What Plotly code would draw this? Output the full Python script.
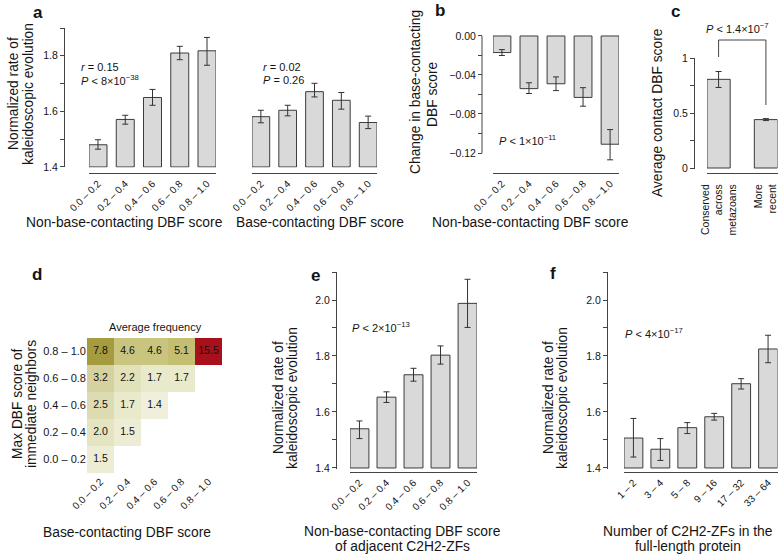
import plotly.graph_objects as go

W, H = 778, 556

# ---------------- data ----------------
dbf_bins = ["0.0 – 0.2", "0.2 – 0.4", "0.4 – 0.6", "0.6 – 0.8", "0.8 – 1.0"]

# panel a (left): non-base-contacting DBF score
a_nb_mean = [1.480, 1.571, 1.650, 1.810, 1.818]
a_nb_hi = [1.498, 1.586, 1.679, 1.834, 1.866]
a_nb_lo = [1.464, 1.554, 1.622, 1.786, 1.766]
# panel a (right): base-contacting DBF score
a_b_mean = [1.581, 1.604, 1.671, 1.640, 1.560]
a_b_hi = [1.604, 1.622, 1.701, 1.668, 1.583]
a_b_lo = [1.559, 1.584, 1.652, 1.608, 1.538]

# panel b: change in base-contacting DBF score
b_mean = [-0.017, -0.054, -0.049, -0.063, -0.111]
b_hi = [-0.014, -0.048, -0.042, -0.053, -0.096]
b_lo = [-0.020, -0.059, -0.056, -0.072, -0.127]

# panel c: average contact DBF score
c_groups = ["Conserved<br>across<br>metazoans", "More<br>recent"]
c_mean = [0.806, 0.440]
c_hi = [0.877, 0.449]
c_lo = [0.732, 0.431]

# panel d: average frequency heat map (rows: neighbours, bottom to top)
d_z = [
    [1.5, None, None, None, None],
    [2.0, 1.5, None, None, None],
    [2.5, 1.7, 1.4, None, None],
    [3.2, 2.2, 1.7, 1.7, None],
    [7.8, 4.6, 4.6, 5.1, 15.5],
]

# panel e: adjacent C2H2-ZFs
e_mean = [1.540, 1.653, 1.733, 1.803, 1.988]
e_hi = [1.568, 1.672, 1.756, 1.836, 2.074]
e_lo = [1.505, 1.634, 1.710, 1.771, 1.902]

# panel f: number of C2H2-ZFs
f_bins = ["1 – 2", "3 – 4", "5 – 8", "9 – 16", "17 – 32", "33 – 64"]
f_mean = [1.507, 1.467, 1.544, 1.583, 1.701, 1.825]
f_hi = [1.577, 1.505, 1.562, 1.595, 1.719, 1.874]
f_lo = [1.439, 1.427, 1.523, 1.571, 1.682, 1.776]

# axis ticks
rate_major_a = [1.4, 1.6, 1.8]
rate_minor_a = [1.5, 1.7, 1.9]
rate_major_e = [1.4, 1.6, 1.8, 2.0]
rate_minor_e = [1.5, 1.7, 1.9, 2.1]
b_major = [0.0, -0.04, -0.08, -0.12]
b_major_text = ["0.00", "−0.04", "−0.08", "−0.12"]
b_minor = [-0.02, -0.06, -0.10]
c_major = [0, 0.5, 1.0]
c_major_text = ["0", "0.5", "1"]
c_minor = [0.25, 0.75]

# ---------------- style ----------------
FONT = "Liberation Sans, Arial, sans-serif"
BAR_FILL = "#d9d9d9"
BAR_EDGE = "#3c3c3c"
LINE = "#444444"
TXT = "#141414"
TICK_FS = 10.5
ROT_FS = 10
TITLE_FS = 13.8
ANN_FS = 11


def px_x(p):
    return p / W


def px_y(p):
    return 1 - p / H


def dom_x(a, b):
    return [px_x(a), px_x(b)]


def dom_y(top, bottom):
    return [px_y(bottom), px_y(top)]


fig = go.Figure()


def add_bars(ax, cats, mean, hi, lo, base, width):
    fig.add_trace(go.Bar(
        x=cats, y=[m - base for m in mean], base=base, width=width,
        xaxis="x" + ax, yaxis="y" + ax,
        marker=dict(color=BAR_FILL, line=dict(color=BAR_EDGE, width=1)),
        error_y=dict(type="data", symmetric=False,
                     array=[h - m for h, m in zip(hi, mean)],
                     arrayminus=[m - l for m, l in zip(mean, lo)],
                     color="#333333", thickness=1, width=3),
        showlegend=False, hoverinfo="skip"))


add_bars("", dbf_bins, a_nb_mean, a_nb_hi, a_nb_lo, 1.4, 0.66)
add_bars("2", dbf_bins, a_b_mean, a_b_hi, a_b_lo, 1.4, 0.66)
add_bars("3", dbf_bins, b_mean, b_hi, b_lo, 0.0, 0.66)
add_bars("4", c_groups, c_mean, c_hi, c_lo, 0.0, 0.49)
add_bars("6", dbf_bins, e_mean, e_hi, e_lo, 1.4, 0.70)
add_bars("7", f_bins, f_mean, f_hi, f_lo, 1.4, 0.70)

fig.add_trace(go.Heatmap(
    z=d_z, x=dbf_bins, y=dbf_bins,
    xaxis="x5", yaxis="y5", zmin=1.4, zmax=15.5, showscale=False,
    colorscale=[[0.0, "#efefdb"], [0.03, "#e7e7c6"], [0.08, "#dcdbb0"],
                [0.14, "#d3d09a"], [0.24, "#c7c27a"], [0.27, "#c1bc6f"],
                [0.46, "#a39b3c"], [0.7, "#a5682c"], [1.0, "#a8101c"]],
    xgap=0, ygap=0, hoverinfo="skip"))

# cell values as text (only filled cells)
cell_x, cell_y, cell_t = [], [], []
for ri, row in enumerate(d_z):
    for ci, v in enumerate(row):
        if v is not None:
            cell_x.append(dbf_bins[ci])
            cell_y.append(dbf_bins[ri])
            cell_t.append(f"{v:.1f}")
fig.add_trace(go.Scatter(
    x=cell_x, y=cell_y, text=cell_t, mode="text", xaxis="x5", yaxis="y5",
    textfont=dict(size=10.5, color="#111111", family=FONT),
    showlegend=False, hoverinfo="skip"))


def xaxis(cats_n, width, xdom, line_y, show_labels=True):
    return dict(type="category", domain=dom_x(*xdom),
                range=[-width / 2, cats_n - 1 + width / 2],
                anchor="free", position=px_y(line_y),
                showline=True, linecolor=LINE, linewidth=1,
                showgrid=False, zeroline=False, ticks="",
                tickangle=-45, showticklabels=show_labels,
                tickfont=dict(size=ROT_FS, color=TXT, family=FONT),
                fixedrange=True, automargin=False)


def yaxis(ydom, yrange, axis_x, major, minor, major_text=None,
          showline=True, visible=True):
    d = dict(domain=dom_y(*ydom), range=yrange, anchor="free",
             position=px_x(axis_x), showline=showline, linecolor=LINE,
             linewidth=1, showgrid=False, zeroline=False,
             ticks="outside", ticklen=4, tickcolor=LINE, tickwidth=1,
             tickmode="array", tickvals=major, visible=visible,
             minor=dict(tickmode="array", tickvals=minor, ticks="outside",
                        ticklen=4, tickcolor=LINE, tickwidth=1, showgrid=False),
             tickfont=dict(size=TICK_FS, color=TXT, family=FONT),
             fixedrange=True, automargin=False)
    if major_text is not None:
        d["ticktext"] = major_text
    else:
        d["tickformat"] = ".1f"
    return d


layout = dict(
    width=W, height=H, margin=dict(l=0, r=0, t=0, b=0),
    paper_bgcolor="white", plot_bgcolor="rgba(0,0,0,0)",
    font=dict(family=FONT, color=TXT), showlegend=False,
    xaxis=xaxis(5, 0.66, (89, 216), 173),
    yaxis=yaxis((28, 167.4), [1.3985, 1.9], 64, rate_major_a, rate_minor_a),
    xaxis2=xaxis(5, 0.66, (252, 377), 173),
    yaxis2=yaxis((28, 167.4), [1.3985, 1.9], 250, rate_major_a, rate_minor_a,
                 visible=False),
    xaxis3=xaxis(5, 0.66, (493, 619), 173),
    yaxis3=yaxis((35, 162.75), [-0.13, 0.001], 482, b_major, b_minor,
                 major_text=b_major_text, showline=False),
    xaxis4=xaxis(2, 0.49, (707, 777.5), 173, show_labels=False),
    yaxis4=yaxis((58, 169.1), [-0.01, 1.0], 694, c_major, c_minor,
                 major_text=c_major_text),
    xaxis5=dict(type="category", domain=dom_x(87, 222), range=[-0.5, 4.5],
                anchor="y5", showline=False, showgrid=False, zeroline=False,
                ticks="", tickangle=-45,
                tickfont=dict(size=ROT_FS, color=TXT, family=FONT),
                fixedrange=True, automargin=False),
    yaxis5=dict(type="category", domain=dom_y(338, 473), range=[-0.5, 4.5],
                anchor="x5", showline=False, showgrid=False, zeroline=False,
                ticks="", tickfont=dict(size=11, color=TXT, family=FONT),
                fixedrange=True, automargin=False),
    xaxis6=xaxis(5, 0.70, (350, 477), 472),
    yaxis6=yaxis((272, 469.1), [1.396, 2.1], 336, rate_major_e, rate_minor_e),
    xaxis7=xaxis(6, 0.70, (624, 777.5), 472),
    yaxis7=yaxis((272, 469.1), [1.396, 2.1], 607, rate_major_e, rate_minor_e),
)
fig.update_layout(**layout)

# axis line for panel b (ends at -0.12, the error bar goes below it)
fig.add_shape(type="line", xref="paper", yref="y3", x0=px_x(482), x1=px_x(482),
              y0=-0.12, y1=0.0, line=dict(color=LINE, width=1))

# significance bracket in panel c
br_top, br_left, br_right = 40, 57, 105
fig.add_shape(type="path", xref="x4", yref="paper",
              path=f"M 0 {px_y(br_left)} L 0 {px_y(br_top)} L 1 {px_y(br_top)} L 1 {px_y(br_right)}",
              line=dict(color=LINE, width=1))

ann = []


def text(x, y, s, size=ANN_FS, xanchor="left", angle=0, bold=False, **kw):
    if bold:
        s = f"<b>{s}</b>"
    d = dict(x=px_x(x), y=px_y(y), xref="paper", yref="paper", text=s,
             showarrow=False, xanchor=xanchor, yanchor="middle",
             textangle=angle, font=dict(size=size, color=TXT, family=FONT))
    d.update(kw)
    ann.append(d)


# panel letters
for lab, x, y in [("a", 38, 13), ("b", 440, 11), ("c", 675, 12),
                  ("d", 37, 274), ("e", 315, 275), ("f", 553, 273)]:
    text(x, y, lab, size=17, xanchor="center", bold=True)

# statistics
text(79, 67, "<i>r</i> = 0.15")
text(79, 80, "<i>P</i> &lt; 8×10<sup>−38</sup>")
text(261, 67, "<i>r</i> = 0.02")
text(261, 80, "<i>P</i> = 0.26")
text(497, 140, "<i>P</i> &lt; 1×10<sup>−11</sup>")
text(737, 28, "<i>P</i> &lt; 1.4×10<sup>−7</sup>", xanchor="center")
text(350, 327, "<i>P</i> &lt; 2×10<sup>−13</sup>")
text(623, 333, "<i>P</i> &lt; 4×10<sup>−17</sup>")
text(155, 327, "Average frequency", size=11, xanchor="center")

# x titles
text(124.5, 223, "Non-base-contacting DBF score", size=TITLE_FS, xanchor="center")
text(319.5, 223, "Base-contacting DBF score", size=TITLE_FS, xanchor="center")
text(530, 223, "Non-base-contacting DBF score", size=TITLE_FS, xanchor="center")
text(127, 532, "Base-contacting DBF score", size=TITLE_FS, xanchor="center")
text(402, 531, "Non-base-contacting DBF score", size=TITLE_FS, xanchor="center")
text(402, 546.5, "of adjacent C2H2-ZFs", size=TITLE_FS, xanchor="center")
text(688, 531, "Number of C2H2-ZFs in the", size=TITLE_FS, xanchor="center")
text(688, 546.5, "full-length protein", size=TITLE_FS, xanchor="center")

# y titles (one annotation per line)
for x, y, s in [(13, 94, "Normalized rate of"), (28, 94, "kaleidoscopic evolution"),
                (416, 92, "Change in base-contacting"), (432, 95, "DBF score"),
                (657, 113, "Average contact DBF score"),
                (17, 404, "Max DBF score of"), (31, 404, "immediate neighbors"),
                (278, 398, "Normalized rate of"), (292, 398, "kaleidoscopic evolution"),
                (548, 398, "Normalized rate of"), (562, 398, "kaleidoscopic evolution")]:
    text(x, y, s, size=TITLE_FS, xanchor="center", angle=-90)

# panel c group labels (vertical, right aligned to the top)
for i, g in enumerate(c_groups):
    ann.append(dict(x=i, xref="x4", y=px_y(182), yref="paper", text=g,
                    showarrow=False, xanchor="center", yanchor="top",
                    textangle=-90, align="right",
                    font=dict(size=10.5, color=TXT, family=FONT)))

fig.update_layout(annotations=ann)
fig.write_html(
    "out.html",
    config={"displayModeBar": False, "staticPlot": True},
    post_script="document.body.style.margin='0';document.body.style.overflow='hidden';"
                "document.documentElement.style.overflow='hidden';",
)
